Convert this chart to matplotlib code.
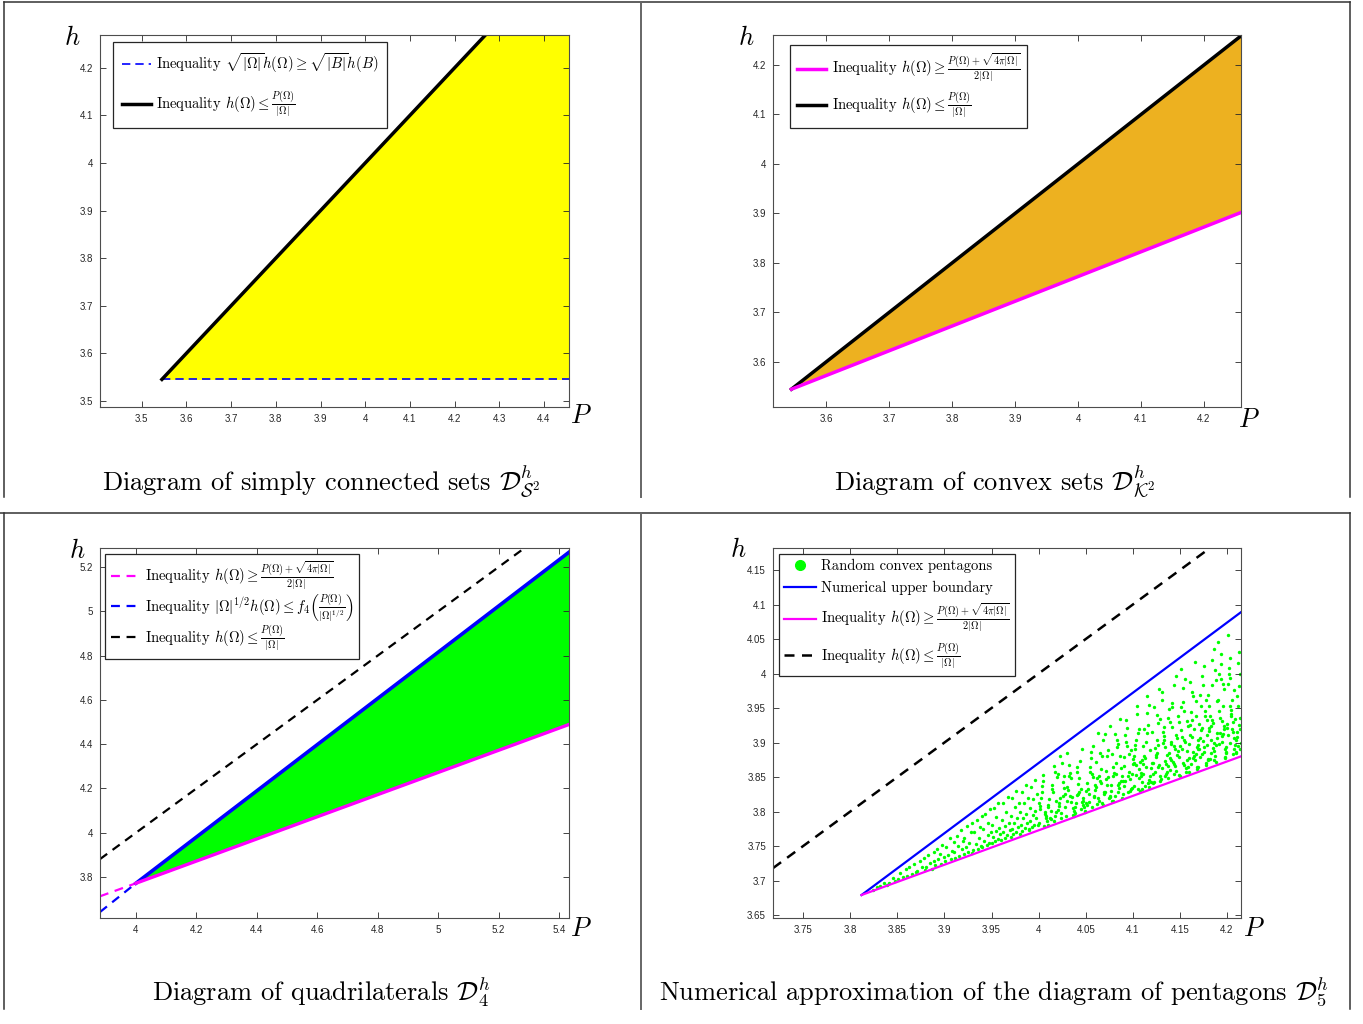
import matplotlib
matplotlib.use('Agg')
import matplotlib.pyplot as plt
from matplotlib.lines import Line2D

plt.rcParams['mathtext.fontset'] = 'cm'
plt.rcParams['axes.unicode_minus'] = False

W, H = 1363, 1024
fig = plt.figure(figsize=(W / 100, H / 100), dpi=100)

TICK_FONT = 'Liberation Sans'
TXT_FONT = 'cmr10'
AX_COL = '#262626'
GREEN = '#00ff00'
MAGENTA = '#ff00ff'
BLUE = '#0000ff'
ORANGE = '#edb120'
YELLOW = '#ffff00'

# ---------------- data ----------------
# Panel 1: simply connected sets
p1_xlim = [3.4065, 4.456]
p1_ylim = [3.487, 4.269]
p1_xticks = [3.5, 3.6, 3.7, 3.8, 3.9, 4.0, 4.1, 4.2, 4.3, 4.4]
p1_xticklabels = ['3.5', '3.6', '3.7', '3.8', '3.9', '4', '4.1', '4.2', '4.3', '4.4']
p1_yticks = [3.5, 3.6, 3.7, 3.8, 3.9, 4.0, 4.1, 4.2]
p1_yticklabels = ['3.5', '3.6', '3.7', '3.8', '3.9', '4', '4.1', '4.2']
p1_upper_P = [3.545, 4.269]
p1_upper_h = [3.545, 4.269]
p1_lower_P = [3.545, 4.456]
p1_lower_h = [3.545, 3.545]
p1_fill_P = [3.545, 4.269, 4.456]
p1_fill_low = [3.545, 3.545, 3.545]
p1_fill_top = [3.545, 4.269, 4.269]

# Panel 2: convex sets
p2_xlim = [3.5157, 4.2588]
p2_ylim = [3.509, 4.2606]
p2_xticks = [3.6, 3.7, 3.8, 3.9, 4.0, 4.1, 4.2]
p2_xticklabels = ['3.6', '3.7', '3.8', '3.9', '4', '4.1', '4.2']
p2_yticks = [3.6, 3.7, 3.8, 3.9, 4.0, 4.1, 4.2]
p2_yticklabels = ['3.6', '3.7', '3.8', '3.9', '4', '4.1', '4.2']
p2_P = [3.545, 4.2588]
p2_upper_h = [3.545, 4.2588]
p2_lower_h = [3.545, 3.902]

# Panel 3: quadrilaterals
p3_xlim = [3.881, 5.433]
p3_ylim = [3.615, 5.286]
p3_xticks = [4.0, 4.2, 4.4, 4.6, 4.8, 5.0, 5.2, 5.4]
p3_xticklabels = ['4', '4.2', '4.4', '4.6', '4.8', '5', '5.2', '5.4']
p3_yticks = [3.8, 4.0, 4.2, 4.4, 4.6, 4.8, 5.0, 5.2]
p3_yticklabels = ['3.8', '4', '4.2', '4.4', '4.6', '4.8', '5', '5.2']
p3_low_dash_P = [3.881, 4.0]
p3_low_dash_h = [3.713, 3.772]
p3_up_dash_P = [3.881, 4.0]
p3_up_dash_h = [3.642, 3.772]
p3_P = [4.0, 5.433]
p3_low_h = [3.772, 4.489]
p3_up_h = [3.772, 5.267]
p3_triv_P = [3.881, 5.286]
p3_triv_h = [3.881, 5.286]

# Panel 4: pentagons
p4_xlim = [3.718, 4.2149]
p4_ylim = [3.6457, 4.182]
p4_xticks = [3.75, 3.8, 3.85, 3.9, 3.95, 4.0, 4.05, 4.1, 4.15, 4.2]
p4_xticklabels = ['3.75', '3.8', '3.85', '3.9', '3.95', '4', '4.05', '4.1', '4.15', '4.2']
p4_yticks = [3.65, 3.7, 3.75, 3.8, 3.85, 3.9, 3.95, 4.0, 4.05, 4.1, 4.15]
p4_yticklabels = ['3.65', '3.7', '3.75', '3.8', '3.85', '3.9', '3.95', '4', '4.05', '4.1', '4.15']
p4_P = [3.812, 4.2149]
p4_up_h = [3.679, 4.089]
p4_low_h = [3.679, 3.880]
p4_triv_P = [3.718, 4.182]
p4_triv_h = [3.718, 4.182]
pent_points = [
    (3.8237, 3.687), (3.8282, 3.690),
    (3.8314, 3.692), (3.8363, 3.697), (3.8389, 3.694),
    (3.8411, 3.697), (3.8456, 3.704), (3.8478, 3.699),
    (3.8508, 3.702), (3.8533, 3.711), (3.8561, 3.705), (3.8594, 3.716),
    (3.8605, 3.706), (3.8627, 3.719), (3.8652, 3.710), (3.8681, 3.724), (3.8698, 3.713),
    (3.8712, 3.714), (3.8739, 3.728), (3.8764, 3.719), (3.8786, 3.733), (3.8795, 3.715),
    (3.8804, 3.719), (3.8821, 3.737), (3.8846, 3.726), (3.8863, 3.717), (3.8888, 3.742), (3.8893, 3.729),
    (3.8903, 3.723), (3.8918, 3.745), (3.8932, 3.731), (3.8951, 3.738), (3.8967, 3.724), (3.8979, 3.752), (3.8991, 3.734),
    (3.9008, 3.729), (3.9021, 3.748), (3.9039, 3.737), (3.9055, 3.761), (3.9068, 3.731), (3.9083, 3.743), (3.9097, 3.756),
    (3.9102, 3.741), (3.9115, 3.733), (3.9129, 3.765), (3.9143, 3.750), (3.9158, 3.736), (3.9171, 3.773), (3.9186, 3.745), (3.9194, 3.758),
    (3.9204, 3.738), (3.9213, 3.762), (3.9227, 3.749), (3.9241, 3.779), (3.9255, 3.742), (3.9266, 3.755), (3.9279, 3.770), (3.9288, 3.740), (3.9297, 3.784),
    (3.9306, 3.744), (3.9317, 3.770), (3.9331, 3.753), (3.9342, 3.788), (3.9357, 3.746), (3.9368, 3.762), (3.9376, 3.777), (3.9389, 3.750), (3.9398, 3.793),
    (3.9403, 3.748), (3.9411, 3.775), (3.9424, 3.758), (3.9436, 3.797), (3.9447, 3.751), (3.9459, 3.766), (3.9468, 3.784), (3.9477, 3.755), (3.9486, 3.803), (3.9495, 3.770),
    (3.9502, 3.754), (3.9509, 3.781), (3.9516, 3.763), (3.9528, 3.805), (3.9537, 3.757), (3.9545, 3.772), (3.9553, 3.792), (3.9564, 3.760), (3.9572, 3.812), (3.9581, 3.776), (3.9593, 3.767),
    (3.9604, 3.759), (3.9611, 3.788), (3.9619, 3.770), (3.9627, 3.812), (3.9638, 3.762), (3.9646, 3.779), (3.9655, 3.799), (3.9663, 3.766), (3.9674, 3.821), (3.9686, 3.784), (3.9697, 3.773),
    (3.9702, 3.763), (3.9708, 3.794), (3.9715, 3.775), (3.9722, 3.820), (3.9731, 3.767), (3.9739, 3.784), (3.9748, 3.806), (3.9756, 3.771), (3.9763, 3.830), (3.9772, 3.790), (3.9784, 3.778), (3.9795, 3.812),
    (3.9801, 3.768), (3.9807, 3.799), (3.9813, 3.781), (3.9821, 3.828), (3.9829, 3.772), (3.9836, 3.790), (3.9844, 3.812), (3.9852, 3.776), (3.9861, 3.838), (3.9869, 3.796), (3.9878, 3.784), (3.9887, 3.819), (3.9896, 3.774),
    (3.9903, 3.773), (3.9909, 3.805), (3.9914, 3.786), (3.9922, 3.836), (3.9929, 3.777), (3.9937, 3.795), (3.9944, 3.818), (3.9951, 3.781), (3.9959, 3.846), (3.9967, 3.801), (3.9975, 3.790), (3.9984, 3.826), (3.9993, 3.780),
    (4.0058, 3.779), (4.0012, 3.808), (4.0083, 3.790), (4.0037, 3.837), (4.0004, 3.783), (4.0069, 3.799), (4.0025, 3.820), (4.0091, 3.786),
    (4.0046, 3.853), (4.0017, 3.804), (4.0076, 3.794), (4.0031, 3.828), (4.0095, 3.781), (4.0008, 3.813), (4.0052, 3.845), (4.0064, 3.796),
    (4.0123, 3.791), (4.0171, 3.858), (4.0105, 3.809), (4.0188, 3.799), (4.0142, 3.833), (4.0160, 3.786), (4.0114, 3.818), (4.0197, 3.850),
    (4.0133, 3.801), (4.0179, 3.793), (4.0150, 3.829), (4.0102, 3.807), (4.0166, 3.866), (4.0127, 3.789), (4.0184, 3.815), (4.0145, 3.838),
    (4.0261, 3.823), (4.0209, 3.855), (4.0285, 3.806), (4.0236, 3.798), (4.0272, 3.834), (4.0218, 3.812), (4.0249, 3.871), (4.0293, 3.794), (4.0227, 3.820),
    (4.0255, 3.843), (4.0203, 3.802), (4.0280, 3.826), (4.0241, 3.790), (4.0267, 3.851), (4.0214, 3.808), (4.0298, 3.816), (4.0230, 3.880),
    (4.0344, 3.848), (4.0387, 3.807), (4.0312, 3.831), (4.0370, 3.795), (4.0329, 3.856), (4.0395, 3.813), (4.0353, 3.821), (4.0306, 3.885), (4.0378, 3.794),
    (4.0335, 3.823), (4.0362, 3.805), (4.0319, 3.852), (4.0390, 3.798), (4.0347, 3.814), (4.0302, 3.835), (4.0374, 3.801), (4.0324, 3.868),
    (4.0415, 3.826), (4.0458, 3.890), (4.0492, 3.799), (4.0433, 3.828), (4.0476, 3.810), (4.0408, 3.857), (4.0449, 3.803), (4.0467, 3.819), (4.0421, 3.840),
    (4.0484, 3.806), (4.0440, 3.873), (4.0403, 3.824), (4.0462, 3.814), (4.0427, 3.848), (4.0497, 3.801), (4.0453, 3.833), (4.0411, 3.865), (4.0471, 3.816),
    (4.0537, 3.826), (4.0581, 3.850), (4.0506, 3.812), (4.0559, 3.886), (4.0524, 3.832), (4.0593, 3.821), (4.0545, 3.858), (4.0570, 3.807), (4.0514, 3.842),
    (4.0552, 3.877), (4.0588, 3.823), (4.0531, 3.814), (4.0566, 3.854), (4.0502, 3.830), (4.0577, 3.895), (4.0519, 3.810), (4.0598, 3.839), (4.0541, 3.864),
    (4.0672, 3.812), (4.0616, 3.849), (4.0649, 3.885), (4.0691, 3.829), (4.0628, 3.820), (4.0663, 3.861), (4.0605, 3.836), (4.0684, 3.904), (4.0638, 3.815), (4.0657, 3.845),
    (4.0611, 3.872), (4.0696, 3.825), (4.0643, 3.852), (4.0624, 3.811), (4.0678, 3.881), (4.0601, 3.831), (4.0667, 3.841), (4.0633, 3.914), (4.0689, 3.810),
    (4.0708, 3.913), (4.0754, 3.821), (4.0787, 3.852), (4.0729, 3.880), (4.0766, 3.830), (4.0713, 3.859), (4.0795, 3.816), (4.0742, 3.889), (4.0771, 3.838), (4.0720, 3.847),
    (4.0758, 3.924), (4.0783, 3.815), (4.0736, 3.850), (4.0704, 3.828), (4.0777, 3.884), (4.0749, 3.820), (4.0725, 3.839), (4.0792, 3.864), (4.0761, 3.823),
    (4.0845, 3.898), (4.0891, 3.844), (4.0817, 3.854), (4.0863, 3.934), (4.0882, 3.820), (4.0803, 3.856), (4.0856, 3.834), (4.0834, 3.893), (4.0897, 3.825), (4.0871, 3.845),
    (4.0822, 3.871), (4.0848, 3.829), (4.0809, 3.913), (4.0886, 3.851), (4.0839, 3.839), (4.0866, 3.881), (4.0814, 3.823), (4.0879, 3.863), (4.0828, 3.903), (4.0853, 3.841),
    (4.0926, 3.901), (4.0974, 3.830), (4.0951, 3.851), (4.0908, 3.879), (4.0993, 3.834), (4.0937, 3.921), (4.0962, 3.858), (4.0915, 3.845), (4.0984, 3.889), (4.0947, 3.828),
    (4.0999, 3.869), (4.0921, 3.911), (4.0968, 3.847), (4.0903, 3.837), (4.0956, 3.884), (4.0989, 3.855), (4.0932, 3.932), (4.0977, 3.832), (4.0911, 3.866), (4.0942, 3.895),
    (4.1083, 3.851), (4.1019, 3.897), (4.1056, 3.833), (4.1002, 3.876), (4.1071, 3.920), (4.1038, 3.853), (4.1094, 3.843), (4.1025, 3.891), (4.1062, 3.861), (4.1047, 3.941), (4.1008, 3.837),
    (4.1079, 3.872), (4.1033, 3.903), (4.1066, 3.848), (4.1014, 3.880), (4.1099, 3.832), (4.1051, 3.914), (4.1086, 3.856), (4.1029, 3.867), (4.1043, 3.953), (4.1075, 3.830), (4.1011, 3.870),
    (4.1141, 3.901), (4.1107, 3.869), (4.1168, 3.955), (4.1192, 3.843), (4.1124, 3.881), (4.1155, 3.914), (4.1113, 3.855), (4.1180, 3.889), (4.1135, 3.837), (4.1161, 3.926), (4.1197, 3.863),
    (4.1103, 3.875), (4.1149, 3.968), (4.1174, 3.836), (4.1129, 3.878), (4.1186, 3.852), (4.1118, 3.920), (4.1158, 3.842), (4.1144, 3.865), (4.1110, 3.895), (4.1177, 3.846), (4.1152, 3.943),
    (4.1263, 3.897), (4.1228, 3.843), (4.1291, 3.934), (4.1205, 3.870), (4.1247, 3.882), (4.1279, 3.978), (4.1216, 3.841), (4.1254, 3.885), (4.1237, 3.858), (4.1272, 3.928), (4.1298, 3.847), (4.1211, 3.871),
    (4.1260, 3.903), (4.1285, 3.852), (4.1222, 3.952), (4.1243, 3.879), (4.1269, 3.864), (4.1203, 3.915), (4.1294, 3.844), (4.1231, 3.892), (4.1257, 3.940), (4.1282, 3.867), (4.1219, 3.855),
    (4.1314, 3.863), (4.1377, 3.936), (4.1342, 3.852), (4.1396, 3.877), (4.1329, 3.910), (4.1361, 3.857), (4.1305, 3.961), (4.1388, 3.885), (4.1351, 3.869), (4.1335, 3.922), (4.1370, 3.849), (4.1319, 3.899),
    (4.1383, 3.949), (4.1347, 3.873), (4.1399, 3.860), (4.1324, 3.916), (4.1366, 3.882), (4.1309, 3.973), (4.1356, 3.854), (4.1338, 3.894), (4.1392, 3.930), (4.1373, 3.866), (4.1331, 3.904),
    (4.1452, 3.891), (4.1408, 3.875), (4.1487, 3.930), (4.1433, 3.855), (4.1469, 3.906), (4.1421, 3.957), (4.1495, 3.879), (4.1446, 3.866), (4.1413, 3.923), (4.1478, 3.888), (4.1439, 3.983), (4.1461, 3.859),
    (4.1402, 3.901), (4.1484, 3.938), (4.1427, 3.872), (4.1457, 3.911), (4.1491, 3.853), (4.1417, 3.951), (4.1473, 3.882), (4.1436, 3.895), (4.1464, 3.997), (4.1498, 3.851), (4.1405, 3.898), (4.1442, 3.869),
    (4.1537, 3.871), (4.1571, 3.931), (4.1504, 3.895), (4.1558, 3.992), (4.1589, 3.865), (4.1522, 3.908), (4.1546, 3.946), (4.1595, 3.878), (4.1513, 3.918), (4.1566, 3.858), (4.1531, 3.959), (4.1580, 3.888),
    (4.1552, 3.901), (4.1517, 4.007), (4.1599, 3.857), (4.1541, 3.904), (4.1575, 3.875), (4.1508, 3.952), (4.1562, 3.863), (4.1527, 3.890), (4.1584, 3.924), (4.1549, 3.868), (4.1535, 3.979), (4.1593, 3.898),
    (4.1666, 3.884), (4.1612, 3.925), (4.1693, 3.864), (4.1640, 3.967), (4.1677, 3.894), (4.1625, 3.908), (4.1658, 4.017), (4.1684, 3.862), (4.1603, 3.911), (4.1649, 3.881), (4.1671, 3.960), (4.1619, 3.869), (4.1697, 3.896),
    (4.1634, 3.932), (4.1661, 3.874), (4.1608, 3.988), (4.1688, 3.904), (4.1644, 3.887), (4.1615, 3.945), (4.1679, 3.865), (4.1653, 3.920), (4.1629, 3.974), (4.1696, 3.891), (4.1637, 3.877), (4.1670, 3.938),
    (4.1781, 3.867), (4.1727, 3.918), (4.1755, 3.886), (4.1709, 3.969), (4.1796, 3.874), (4.1743, 3.902), (4.1768, 3.939), (4.1714, 3.879), (4.1732, 3.997), (4.1787, 3.911), (4.1759, 3.893), (4.1721, 3.953), (4.1774, 3.871),
    (4.1704, 3.927), (4.1748, 3.983), (4.1791, 3.897), (4.1736, 3.883), (4.1763, 3.946), (4.1717, 3.907), (4.1752, 4.011), (4.1799, 3.876), (4.1739, 3.921), (4.1776, 3.962), (4.1702, 3.890), (4.1785, 3.932),
    (4.1834, 3.885), (4.1871, 4.005), (4.1806, 3.917), (4.1858, 3.899), (4.1892, 3.960), (4.1819, 3.876), (4.1845, 3.933), (4.1883, 3.991), (4.1827, 3.903), (4.1864, 3.888), (4.1811, 3.953), (4.1897, 3.914), (4.1839, 4.020),
    (4.1876, 3.881), (4.1852, 3.928), (4.1803, 3.969), (4.1888, 3.896), (4.1823, 3.939), (4.1867, 3.874), (4.1841, 3.984), (4.1895, 3.906), (4.1814, 3.921), (4.1861, 4.036), (4.1879, 3.872), (4.1831, 3.924), (4.1849, 3.892),
    (4.1918, 4.000), (4.1952, 3.909), (4.1987, 3.894), (4.1903, 3.961), (4.1966, 3.920), (4.1939, 4.029), (4.1994, 3.887), (4.1925, 3.935), (4.1971, 3.977), (4.1948, 3.901), (4.1911, 3.946), (4.1983, 3.879), (4.1933, 3.992),
    (4.1959, 3.913), (4.1996, 3.927), (4.1907, 4.046), (4.1976, 3.877), (4.1942, 3.931), (4.1914, 3.898), (4.1963, 3.985), (4.1991, 3.885), (4.1929, 3.914), (4.1955, 3.953), (4.1980, 3.890), (4.1936, 4.014), (4.1969, 3.924),
    (4.2047, 3.942), (4.2009, 3.985), (4.2073, 3.907), (4.2035, 3.953), (4.2091, 3.885), (4.2022, 4.000), (4.2058, 3.919), (4.2084, 3.934), (4.2016, 4.056), (4.2067, 3.883), (4.2041, 3.938), (4.2097, 3.904), (4.2028, 3.993),
    (4.2079, 3.890), (4.2004, 3.921), (4.2053, 3.961), (4.2088, 3.896), (4.2031, 4.023), (4.2062, 3.930), (4.2013, 3.911), (4.2076, 3.976), (4.2099, 3.886), (4.2044, 3.947), (4.2019, 4.008), (4.2069, 3.915), (4.2037, 3.900),
    (4.2103, 3.908), (4.2141, 4.000), (4.2118, 3.895), (4.2132, 3.926), (4.2109, 3.967), (4.2146, 3.900), (4.2124, 4.031),
    (4.2137, 3.936), (4.2106, 3.916), (4.2128, 3.982), (4.2143, 3.891), (4.2114, 3.953), (4.2121, 4.016), (4.2135, 3.920),
]
pent_P = [p for p, _ in pent_points]
pent_h = [q for _, q in pent_points]

captions = [
    r'Diagram of simply connected sets $\mathcal{D}^h_{\mathcal{S}^2}$',
    r'Diagram of convex sets $\mathcal{D}^h_{\mathcal{K}^2}$',
    r'Diagram of quadrilaterals $\mathcal{D}^h_4$',
    r'Numerical approximation of the diagram of pentagons $\mathcal{D}^h_5$',
]
lab_disk = r'Inequality $\sqrt{|\Omega|}h(\Omega) \geq \sqrt{|B|}h(B)$'
lab_triv = r'Inequality $h(\Omega) \leq \frac{P(\Omega)}{|\Omega|}$'
lab_conv = r'Inequality $h(\Omega) \geq \frac{P(\Omega)+\sqrt{4\pi|\Omega|}}{2|\Omega|}$'
lab_f4 = r'Inequality $|\Omega|^{1/2}h(\Omega) \leq f_4\left(\frac{P(\Omega)}{|\Omega|^{1/2}}\right)$'
lab_pts = 'Random convex pentagons'
lab_num = 'Numerical upper boundary'


# ---------------- helpers ----------------
def px_axes(x0, y0, x1, y1):
    return fig.add_axes([x0 / W, 1 - y1 / H, (x1 - x0) / W, (y1 - y0) / H])


def style(ax, xlim, ylim, xt, xtl, yt, ytl):
    ax.set_xlim(xlim)
    ax.set_ylim(ylim)
    ax.set_xticks(xt)
    ax.set_xticklabels(xtl, fontfamily=TICK_FONT, fontsize=7, color=AX_COL)
    ax.set_yticks(yt)
    ax.set_yticklabels(ytl, fontfamily=TICK_FONT, fontsize=7, color=AX_COL)
    ax.tick_params(direction='in', top=True, right=True, length=4.5, width=0.6,
                   color=AX_COL, pad=5)
    for s in ax.spines.values():
        s.set_color('#4d4d4d')
        s.set_linewidth(0.8)


def legend(ax, handles, labels, x0, y0, axw, axh, spacing, pad, hl=2.0):
    leg = ax.legend(handles, labels, loc='upper left',
                    bbox_to_anchor=(x0 / axw, 1 - y0 / axh), borderaxespad=0,
                    frameon=True, fancybox=False, framealpha=1, edgecolor=AX_COL,
                    prop={'family': TXT_FONT, 'size': 10.5}, handlelength=hl,
                    handletextpad=0.35, labelspacing=spacing, borderpad=pad)
    leg.get_frame().set_linewidth(0.9)
    return leg


def axis_names(hx, hy, px, py):
    fig.text(hx / W, 1 - hy / H, r'$h$', fontsize=19, ha='center', va='center')
    fig.text(px / W, 1 - py / H, r'$P$', fontsize=19, ha='center', va='center')


# ---------------- panel 1 ----------------
ax1 = px_axes(100, 35, 569, 407)
ax1.fill_between(p1_fill_P, p1_fill_low, p1_fill_top, color=YELLOW, lw=0)
ax1.plot(p1_lower_P, p1_lower_h, color=BLUE, ls='--', lw=1.2, dashes=(5, 3))
ax1.plot(p1_upper_P, p1_upper_h, color='k', lw=2.5)
style(ax1, p1_xlim, p1_ylim, p1_xticks, p1_xticklabels, p1_yticks, p1_yticklabels)
legend(ax1, [Line2D([], [], color=BLUE, ls='--', lw=1.2, dashes=(5, 3)),
             Line2D([], [], color='k', lw=2.5)],
       [lab_disk, lab_triv], 13, 7, 469, 372, 1.05, 0.6)
axis_names(72, 38, 581, 416)

# ---------------- panel 2 ----------------
ax2 = px_axes(773, 35, 1241, 407)
ax2.fill_between(p2_P, p2_lower_h, p2_upper_h, color=ORANGE, lw=0)
ax2.plot(p2_P, p2_upper_h, color='k', lw=2.5)
ax2.plot(p2_P, p2_lower_h, color=MAGENTA, lw=2.5)
style(ax2, p2_xlim, p2_ylim, p2_xticks, p2_xticklabels, p2_yticks, p2_yticklabels)
legend(ax2, [Line2D([], [], color=MAGENTA, lw=2.5), Line2D([], [], color='k', lw=2.5)],
       [lab_conv, lab_triv], 17, 10, 468, 372, 0.45, 0.5)
axis_names(746, 38, 1249, 420)

# ---------------- panel 3 ----------------
ax3 = px_axes(100, 548, 569, 918)
ax3.fill_between(p3_P, p3_low_h, p3_up_h, color=GREEN, lw=0)
ax3.plot(p3_triv_P, p3_triv_h, color='k', ls='--', lw=1.6, dashes=(4, 3))
ax3.plot(p3_up_dash_P, p3_up_dash_h, color=BLUE, ls='--', lw=1.6, dashes=(4, 3))
ax3.plot(p3_low_dash_P, p3_low_dash_h, color=MAGENTA, ls='--', lw=1.6, dashes=(4, 3))
ax3.plot(p3_P, p3_up_h, color=BLUE, lw=2.6)
ax3.plot(p3_P, p3_low_h, color=MAGENTA, lw=2.4)
style(ax3, p3_xlim, p3_ylim, p3_xticks, p3_xticklabels, p3_yticks, p3_yticklabels)
legend(ax3, [Line2D([], [], color=MAGENTA, ls='--', lw=1.6, dashes=(4, 3)),
             Line2D([], [], color=BLUE, ls='--', lw=1.6, dashes=(4, 3)),
             Line2D([], [], color='k', ls='--', lw=1.6, dashes=(4, 3))],
       [lab_conv, lab_f4, lab_triv], 5, 6, 469, 370, 0.0, 0.4)
axis_names(77, 551, 581, 929)

# ---------------- panel 4 ----------------
ax4 = px_axes(773, 548, 1241, 918)
ax4.scatter(pent_P, pent_h, s=6, color=GREEN, marker='o', linewidths=0)
ax4.plot(p4_triv_P, p4_triv_h, color='k', ls='--', lw=1.8, dashes=(4, 3))
ax4.plot(p4_P, p4_up_h, color=BLUE, lw=1.6)
ax4.plot(p4_P, p4_low_h, color=MAGENTA, lw=1.6)
style(ax4, p4_xlim, p4_ylim, p4_xticks, p4_xticklabels, p4_yticks, p4_yticklabels)
legend(ax4, [Line2D([], [], color=GREEN, ls='none', marker='o', markersize=7),
             Line2D([], [], color=BLUE, lw=1.6),
             Line2D([], [], color=MAGENTA, lw=1.6),
             Line2D([], [], color='k', ls='--', lw=1.8, dashes=(4, 3))],
       [lab_pts, lab_num, lab_conv, lab_triv], 6, 6, 468, 370, 0.5, 0.35, hl=2.2)
axis_names(738, 550, 1254, 929)

# ---------------- captions ----------------
for cx, cy, txt in [(321, 481, captions[0]), (995, 481, captions[1]),
                    (321, 992, captions[2]), (994, 992, captions[3])]:
    fig.text(cx / W, 1 - cy / H, txt, fontsize=19, fontfamily=TXT_FONT,
             ha='center', va='center')

# ---------------- frames ----------------
def fline(x0, y0, x1, y1, col='#333333', lw=1.1):
    fig.add_artist(Line2D([x0 / W, x1 / W], [1 - y0 / H, 1 - y1 / H],
                          transform=fig.transFigure, color=col, lw=lw))

fline(4, 2, 1350, 2)
fline(4, 2, 4, 497)
fline(641, 2, 641, 497, col='#666666', lw=1.4)
fline(1350, 2, 1350, 497)
fline(0, 513, 1350, 513)
fline(4, 513, 4, 1009)
fline(641, 513, 641, 1009, col='#666666', lw=1.4)
fline(1350, 513, 1350, 1009)

fig.savefig('out.png', dpi=100)
